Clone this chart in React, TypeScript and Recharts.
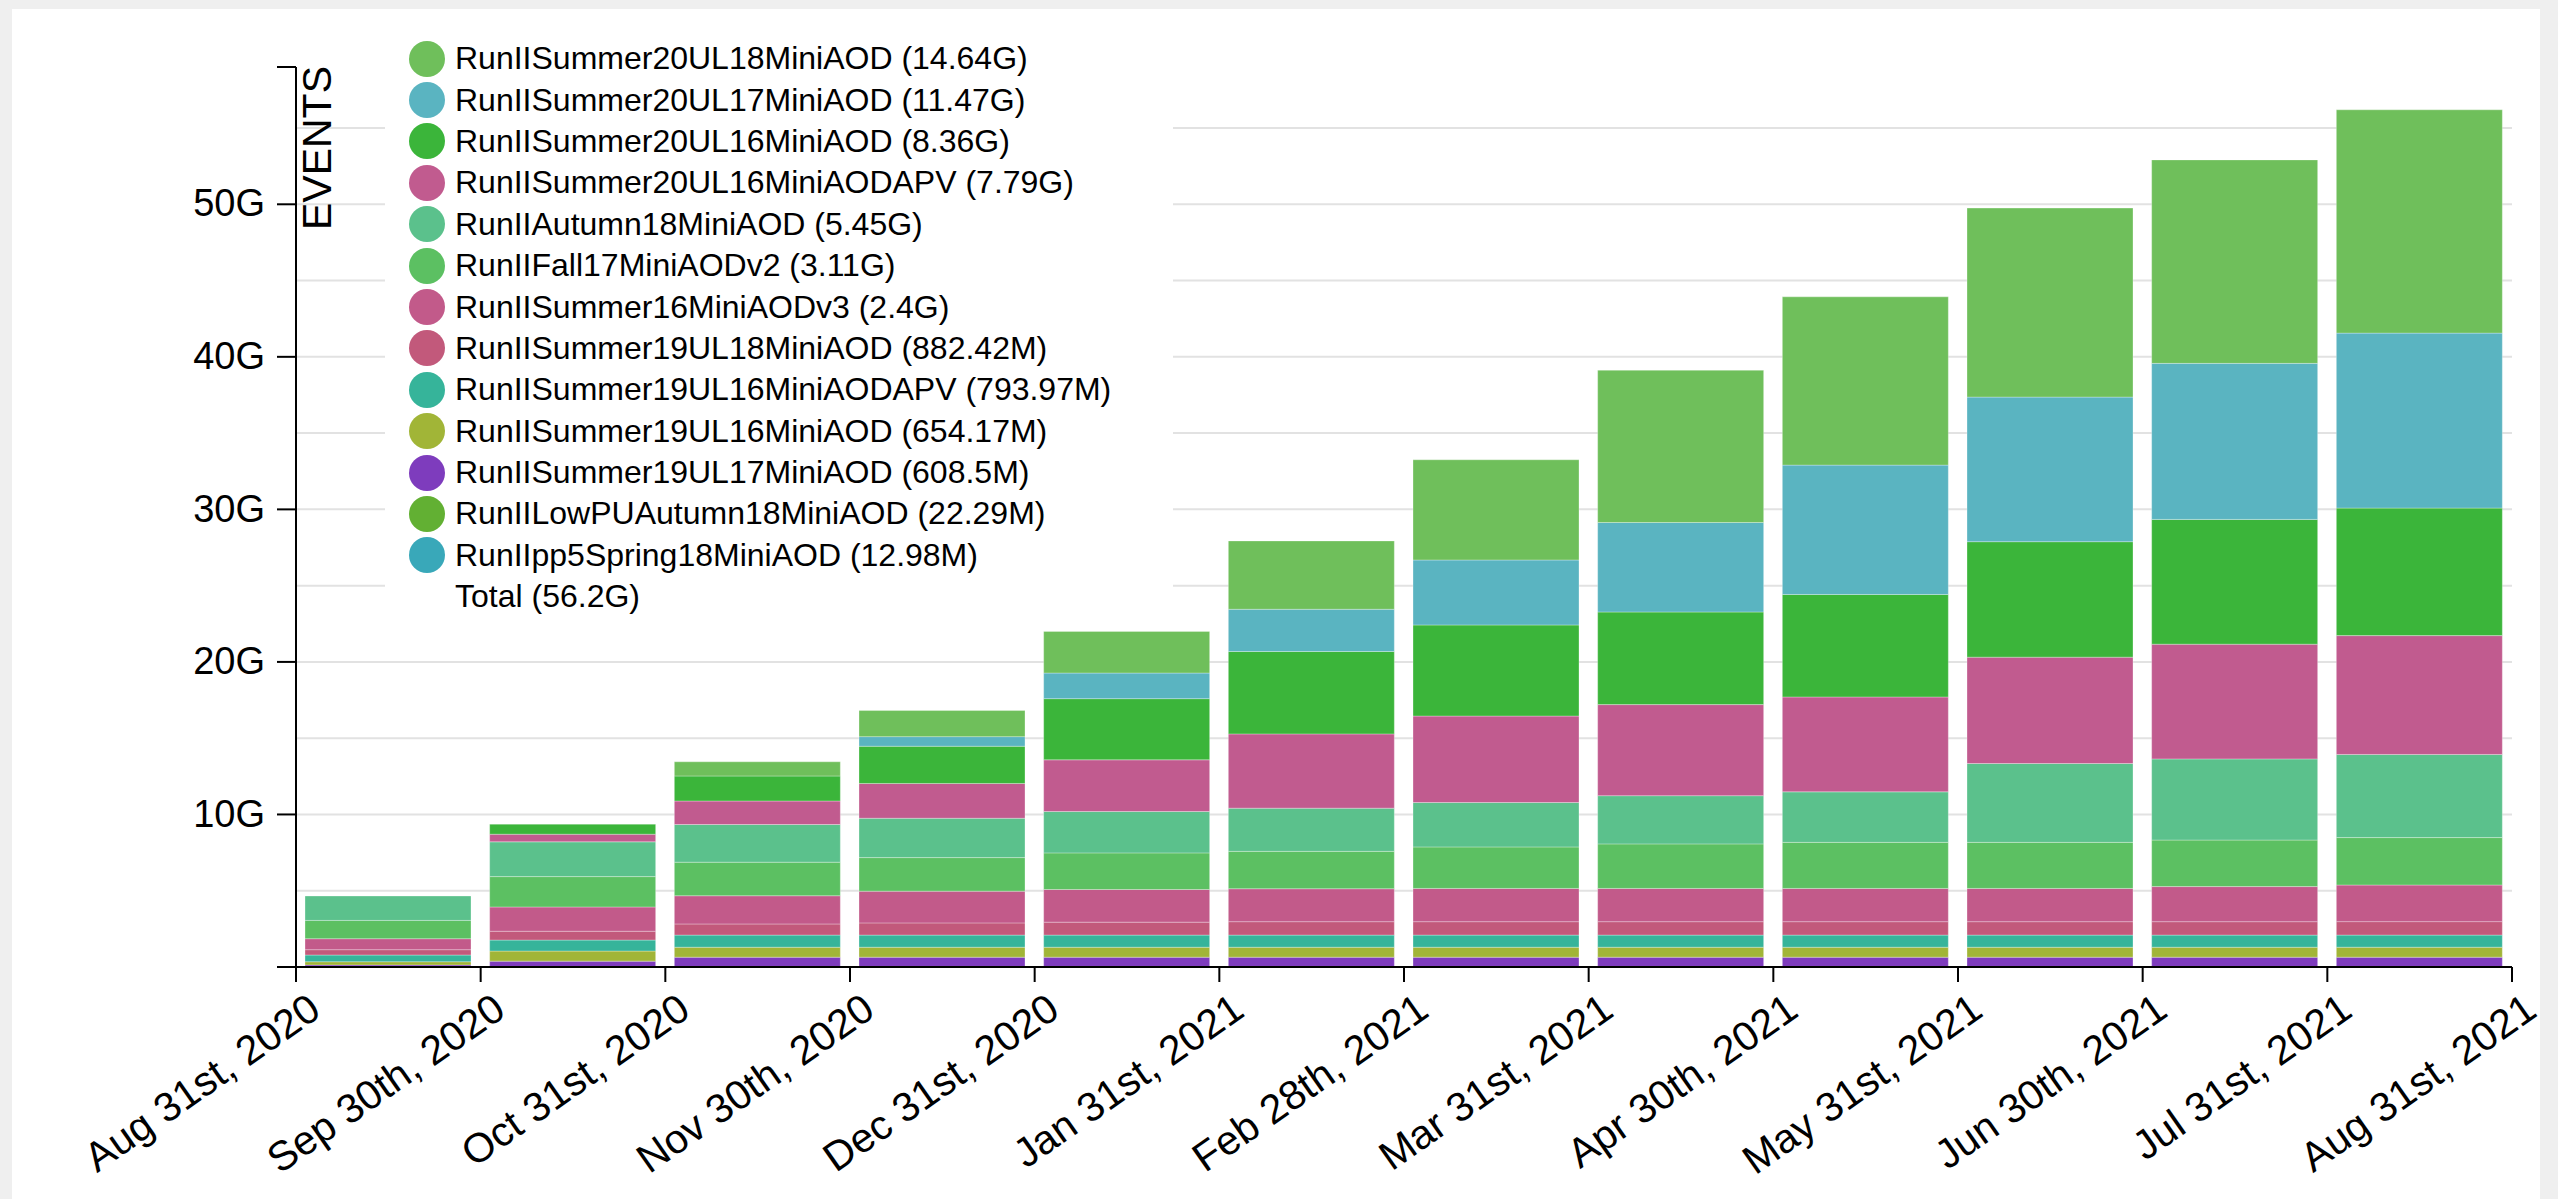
import { BarChart, Bar, XAxis, YAxis, CartesianGrid, Legend } from 'recharts'

// tick labels sit on the month boundaries, bars fill the month between two of them
const tickLabels = [
  'Aug 31st, 2020',
  'Sep 30th, 2020',
  'Oct 31st, 2020',
  'Nov 30th, 2020',
  'Dec 31st, 2020',
  'Jan 31st, 2021',
  'Feb 28th, 2021',
  'Mar 31st, 2021',
  'Apr 30th, 2021',
  'May 31st, 2021',
  'Jun 30th, 2021',
  'Jul 31st, 2021',
  'Aug 31st, 2021',
]

// stack order, bottom first
const seriesKeys = [
  'pp5Spring18',
  'lowPUAutumn18',
  'summer19UL17',
  'summer19UL16',
  'summer19UL16APV',
  'summer19UL18',
  'summer16v3',
  'fall17v2',
  'autumn18',
  'summer20UL16APV',
  'summer20UL16',
  'summer20UL17',
  'summer20UL18',
]

const seriesNames = [
  'RunIIpp5Spring18MiniAOD',
  'RunIILowPUAutumn18MiniAOD',
  'RunIISummer19UL17MiniAOD',
  'RunIISummer19UL16MiniAOD',
  'RunIISummer19UL16MiniAODAPV',
  'RunIISummer19UL18MiniAOD',
  'RunIISummer16MiniAODv3',
  'RunIIFall17MiniAODv2',
  'RunIIAutumn18MiniAOD',
  'RunIISummer20UL16MiniAODAPV',
  'RunIISummer20UL16MiniAOD',
  'RunIISummer20UL17MiniAOD',
  'RunIISummer20UL18MiniAOD',
]

const seriesTotals = [
  '12.98M', '22.29M', '608.5M', '654.17M', '793.97M', '882.42M',
  '2.4G', '3.11G', '5.45G', '7.79G', '8.36G', '11.47G', '14.64G',
]
const grandTotal = '56.2G'

const seriesColors = [
  '#39a8b9',
  '#62b033',
  '#7e3cbd',
  '#a1b537',
  '#36b49a',
  '#c2597b',
  '#c25a8a',
  '#5cc062',
  '#5bc18c',
  '#c15b8f',
  '#3bb53a',
  '#5ab4c1',
  '#6fbf5b',
]

// events per month, in G (cumulative sample sizes)
const pp5Spring18 = [0.013, 0.013, 0.013, 0.013, 0.013, 0.013, 0.013, 0.013, 0.013, 0.013, 0.013, 0.01298]
const lowPUAutumn18 = [0.022, 0.022, 0.022, 0.022, 0.022, 0.022, 0.022, 0.022, 0.022, 0.022, 0.022, 0.02229]
const summer19UL17 = [0.1, 0.35, 0.6085, 0.6085, 0.6085, 0.6085, 0.6085, 0.6085, 0.6085, 0.6085, 0.6085, 0.6085]
const summer19UL16 = [0.21, 0.66, 0.654, 0.654, 0.654, 0.654, 0.654, 0.654, 0.654, 0.654, 0.654, 0.65417]
const summer19UL16APV = [0.44, 0.72, 0.794, 0.794, 0.794, 0.794, 0.794, 0.794, 0.794, 0.794, 0.794, 0.79397]
const summer19UL18 = [0.35, 0.58, 0.73, 0.8, 0.85, 0.88, 0.88, 0.88, 0.88, 0.88, 0.88, 0.88242]
const summer16v3 = [0.72, 1.59, 1.85, 2.08, 2.14, 2.16, 2.18, 2.18, 2.18, 2.18, 2.3, 2.4]
const fall17v2 = [1.2, 1.99, 2.2, 2.2, 2.4, 2.45, 2.72, 2.92, 3.02, 3.02, 3.05, 3.11]
const autumn18 = [1.6, 2.28, 2.47, 2.58, 2.71, 2.83, 2.91, 3.16, 3.31, 5.17, 5.32, 5.45]
const summer20UL16APV = [0, 0.5, 1.54, 2.28, 3.39, 4.87, 5.67, 5.97, 6.22, 6.97, 7.52, 7.79]
const summer20UL16 = [0, 0.66, 1.64, 2.44, 4.01, 5.4, 5.97, 6.07, 6.72, 7.57, 8.18, 8.36]
const summer20UL17 = [0, 0, 0, 0.63, 1.68, 2.77, 4.26, 5.87, 8.48, 9.48, 10.23, 11.47]
const summer20UL18 = [0, 0, 0.93, 1.71, 2.73, 4.48, 6.57, 9.98, 11.03, 12.39, 13.34, 14.64]

const seriesValues = [
  pp5Spring18,
  lowPUAutumn18,
  summer19UL17,
  summer19UL16,
  summer19UL16APV,
  summer19UL18,
  summer16v3,
  fall17v2,
  autumn18,
  summer20UL16APV,
  summer20UL16,
  summer20UL17,
  summer20UL18,
]

const yTicks = [0, 10, 20, 30, 40, 50, 59]
const yMax = 59
const gridValues = [5, 10, 15, 20, 25, 30, 35, 40, 45, 50, 55]
const xTicks = tickLabels.map((_, i) => i)

// each bar sits halfway between its two boundary ticks
const data = tickLabels.slice(1).map((_, i) => {
  const row: Record<string, number> = { slot: i + 0.5 }
  seriesKeys.forEach((key, s) => {
    row[key] = seriesValues[s][i]
  })
  return row
})

const FONT = '"Liberation Sans", Arial, Helvetica, sans-serif'

function YTick({ x, y, payload }: any) {
  if (payload.value === 0 || payload.value === yMax) return null
  return (
    <text x={x} y={y} dy="0.32em" textAnchor="end" fontSize={38} fill="#000">
      {payload.value}G
    </text>
  )
}

function XTick({ x, y, payload }: any) {
  return (
    <text
      transform={`translate(${x + 27},${y + 31}) rotate(-35)`}
      textAnchor="end"
      fontSize={41}
      fill="#000"
    >
      {tickLabels[payload.value]}
    </text>
  )
}

function EventsLabel({ viewBox }: any) {
  const vb = viewBox || { x: 0, y: 0, width: 0 }
  return (
    <text
      transform={`translate(${vb.x + vb.width + 35},${vb.y - 1}) rotate(-90)`}
      textAnchor="end"
      fontSize={41}
      fill="#000"
    >
      EVENTS
    </text>
  )
}

// legend lists the largest sample first, i.e. the stack read top-down
function LegendBox() {
  const order = seriesKeys.map((_, i) => i).reverse()
  return (
    <div style={{ background: '#fff', width: 788, paddingBottom: 14, fontFamily: FONT }}>
      {order.map((i) => (
        <div key={seriesKeys[i]} style={{ display: 'flex', alignItems: 'center', height: 41.4 }}>
          <span
            style={{
              width: 36,
              height: 36,
              borderRadius: '50%',
              background: seriesColors[i],
              marginLeft: 24,
              marginRight: 10,
              flex: 'none',
            }}
          />
          <span style={{ fontSize: 32, color: '#000', whiteSpace: 'nowrap' }}>
            {seriesNames[i]} ({seriesTotals[i]})
          </span>
        </div>
      ))}
      <div style={{ display: 'flex', alignItems: 'center', height: 41.4, paddingLeft: 70, fontSize: 32, color: '#000' }}>
        Total ({grandTotal})
      </div>
    </div>
  )
}

export default function App() {
  return (
    <div style={{ position: 'absolute', left: 0, top: 0, width: 2558, height: 1199, background: '#efefef', fontFamily: FONT }}>
      <div style={{ position: 'absolute', left: 12, top: 9, width: 2528, height: 1190, background: '#fff' }} />
      <div style={{ position: 'absolute', left: 0, top: 0 }}>
        <BarChart
          width={2558}
          height={1199}
          data={data}
          margin={{ top: 67, right: 46, bottom: 0, left: 0 }}
          barSize={166}
        >
          <CartesianGrid
            vertical={false}
            horizontalValues={gridValues}
            stroke="#e2e2e2"
            strokeWidth={2}
          />
          <YAxis
            yAxisId="spacer"
            width={30}
            axisLine={false}
            tickLine={false}
            tick={false}
            domain={[0, yMax]}
          />
          <YAxis
            yAxisId={0}
            type="number"
            width={266}
            domain={[0, yMax]}
            ticks={yTicks}
            interval={0}
            tickSize={19}
            tickMargin={12}
            tick={<YTick />}
            axisLine={{ stroke: '#000', strokeWidth: 2 }}
            tickLine={{ stroke: '#000', strokeWidth: 2 }}
            label={{ content: <EventsLabel /> }}
          />
          <XAxis
            dataKey="slot"
            type="number"
            domain={[0, tickLabels.length - 1]}
            ticks={xTicks}
            interval={0}
            height={232}
            tickSize={15}
            tickMargin={2}
            tick={<XTick />}
            axisLine={{ stroke: '#000', strokeWidth: 2 }}
            tickLine={{ stroke: '#000', strokeWidth: 2 }}
          />
          <Legend
            content={<LegendBox />}
            layout="vertical"
            align="center"
            verticalAlign="middle"
            wrapperStyle={{ position: 'absolute', left: 385, top: 38, width: 788 }}
          />
          {seriesKeys.map((key, s) => (
            <Bar
              key={key}
              dataKey={key}
              name={seriesNames[s]}
              stackId="events"
              yAxisId={0}
              fill={seriesColors[s]}
              stroke="rgba(255,255,255,0.3)"
              strokeWidth={1}
              isAnimationActive={false}
            />
          ))}
        </BarChart>
      </div>
    </div>
  )
}
